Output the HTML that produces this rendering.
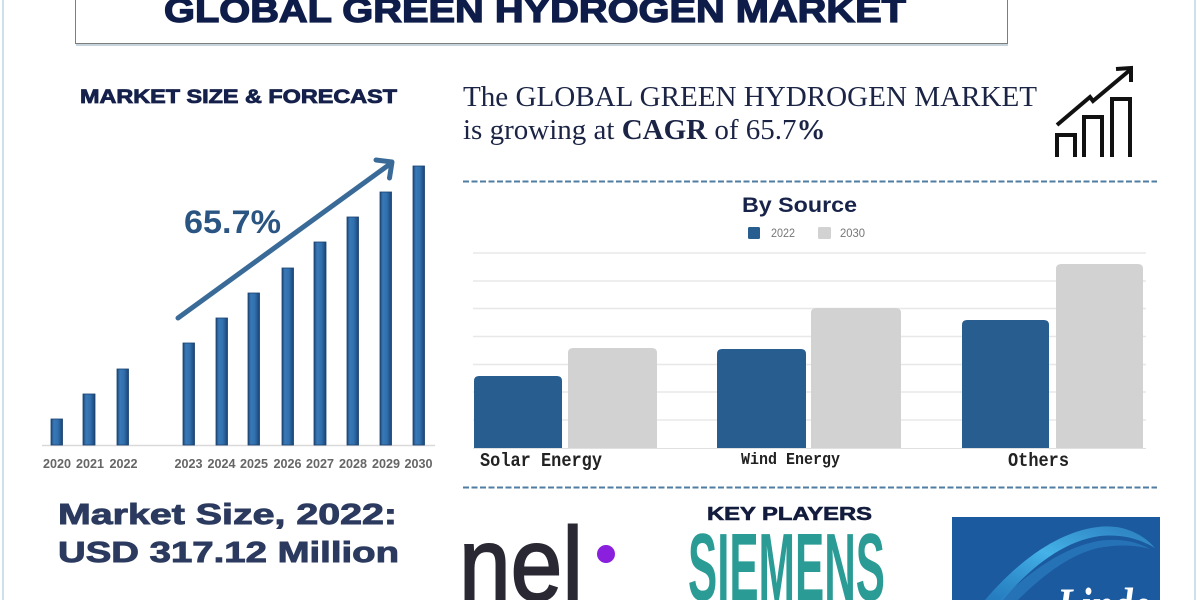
<!DOCTYPE html>
<html>
<head>
<meta charset="utf-8">
<style>
  html,body{margin:0;padding:0;background:#fff;width:1200px;height:600px;overflow:hidden;}
  svg{display:block;overflow:hidden;}
</style>
</head>
<body>
<svg width="1200" height="600" viewBox="0 0 1200 600" xmlns="http://www.w3.org/2000/svg">
  <defs>
    <linearGradient id="lb" x1="0" y1="0" x2="1" y2="0">
      <stop offset="0" stop-color="#1b4677"/>
      <stop offset="0.25" stop-color="#3a78b6"/>
      <stop offset="0.6" stop-color="#3170ae"/>
      <stop offset="1" stop-color="#1a4475"/>
    </linearGradient>
    <linearGradient id="sw" x1="0" y1="1" x2="1" y2="0">
      <stop offset="0" stop-color="#2a8fd0" stop-opacity="0.6"/>
      <stop offset="0.5" stop-color="#45b2e8"/>
      <stop offset="1" stop-color="#3a9fd8" stop-opacity="0.5"/>
    </linearGradient>
    <clipPath id="pg"><rect x="0" y="0" width="1200" height="600"/></clipPath>
  </defs>

  <g clip-path="url(#pg)">
  <rect width="1200" height="600" fill="#ffffff"/>
  <!-- page side borders -->
  <rect x="2" y="0" width="2" height="600" fill="#cfe0ea"/>
  <rect x="1194" y="0" width="2" height="600" fill="#cfe0ea"/>

  <!-- header box -->
  <rect x="75.5" y="-5" width="932" height="48.5" fill="#fff" stroke="#7d7d7d" stroke-width="1"/>
  <line x1="76" y1="45" x2="1008" y2="45" stroke="#c6d4de" stroke-width="2"/>
  <text x="164" y="22" font-family="Liberation Sans, sans-serif" font-weight="bold" font-size="34" fill="#0e1c4a" stroke="#0e1c4a" stroke-width="1.3" textLength="742" lengthAdjust="spacingAndGlyphs">GLOBAL GREEN HYDROGEN MARKET</text>

  <!-- left section title -->
  <text x="80" y="103" font-family="Liberation Sans, sans-serif" font-weight="bold" font-size="19" fill="#15214b" stroke="#15214b" stroke-width="0.8" textLength="317" lengthAdjust="spacingAndGlyphs">MARKET SIZE &amp; FORECAST</text>

  <!-- left bar chart -->
  <line x1="42" y1="445.5" x2="435" y2="445.5" stroke="#d9d9d9" stroke-width="1.5"/>
  <g fill="url(#lb)" stroke="#1a426f" stroke-width="0.8">
    <rect x="51" y="419" width="11.5" height="26"/>
    <rect x="83" y="394" width="12" height="51"/>
    <rect x="117" y="369" width="11.5" height="76"/>
    <rect x="183" y="343" width="11.5" height="102"/>
    <rect x="216" y="318" width="11.5" height="127"/>
    <rect x="248" y="293" width="11.5" height="152"/>
    <rect x="282" y="268" width="11.5" height="177"/>
    <rect x="314" y="242" width="12" height="203"/>
    <rect x="347" y="217" width="11.5" height="228"/>
    <rect x="380" y="192" width="11.5" height="253"/>
    <rect x="413" y="166" width="11.5" height="279"/>
  </g>
  <g font-family="Liberation Sans, sans-serif" font-weight="bold" font-size="13" fill="#666" text-anchor="middle">
    <text x="57" y="468" textLength="28" lengthAdjust="spacingAndGlyphs">2020</text>
    <text x="90" y="468" textLength="28" lengthAdjust="spacingAndGlyphs">2021</text>
    <text x="123.5" y="468" textLength="28" lengthAdjust="spacingAndGlyphs">2022</text>
    <text x="188.5" y="468" textLength="28" lengthAdjust="spacingAndGlyphs">2023</text>
    <text x="221.5" y="468" textLength="28" lengthAdjust="spacingAndGlyphs">2024</text>
    <text x="254" y="468" textLength="28" lengthAdjust="spacingAndGlyphs">2025</text>
    <text x="287.5" y="468" textLength="28" lengthAdjust="spacingAndGlyphs">2026</text>
    <text x="320" y="468" textLength="28" lengthAdjust="spacingAndGlyphs">2027</text>
    <text x="353" y="468" textLength="28" lengthAdjust="spacingAndGlyphs">2028</text>
    <text x="386" y="468" textLength="28" lengthAdjust="spacingAndGlyphs">2029</text>
    <text x="418.5" y="468" textLength="28" lengthAdjust="spacingAndGlyphs">2030</text>
  </g>
  <!-- growth arrow -->
  <line x1="178" y1="318" x2="390" y2="164" stroke="#3a6b98" stroke-width="5" stroke-linecap="round"/>
  <polyline points="376,160 392,162 389.5,178" fill="none" stroke="#3a6b98" stroke-width="5" stroke-linecap="round" stroke-linejoin="round"/>
  <text x="184" y="233" font-family="Liberation Sans, sans-serif" font-weight="bold" font-size="32" fill="#2a5482" textLength="97" lengthAdjust="spacingAndGlyphs">65.7%</text>

  <!-- CAGR text -->
  <text x="463" y="106" font-family="Liberation Serif, serif" font-size="29" fill="#1b2445" textLength="574" lengthAdjust="spacingAndGlyphs">The GLOBAL GREEN HYDROGEN MARKET</text>
  <text x="463" y="139" font-family="Liberation Serif, serif" font-size="29" fill="#1b2445">is growing at <tspan font-weight="bold">CAGR</tspan> of 65.7<tspan font-weight="bold">%</tspan></text>

  <!-- growth icon -->
  <g fill="none" stroke="#111" stroke-width="4" stroke-linejoin="miter">
    <polyline points="1057,157 1057,135 1075,135 1075,157"/>
    <polyline points="1084,157 1084,117 1102,117 1102,157"/>
    <polyline points="1112,157 1112,99 1130,99 1130,157"/>
    <polyline points="1057,125 1090,97 1093,101 1130,70"/>
    <polyline points="1116,69 1131,68 1131,82"/>
  </g>

  <!-- dashed separators -->
  <line x1="463" y1="181.5" x2="1157" y2="181.5" stroke="#4f7da3" stroke-width="2" stroke-dasharray="6,2.5"/>
  <line x1="463" y1="487.5" x2="1157" y2="487.5" stroke="#4f7da3" stroke-width="2" stroke-dasharray="6,2.5"/>

  <!-- By Source chart -->
  <text x="742" y="212" font-family="Liberation Sans, sans-serif" font-weight="bold" font-size="21" fill="#18234a" textLength="115" lengthAdjust="spacingAndGlyphs">By Source</text>
  <rect x="748" y="227" width="12" height="12" rx="1.5" fill="#275d8f"/>
  <text x="771" y="237" font-family="Liberation Sans, sans-serif" font-size="12" fill="#777" textLength="24" lengthAdjust="spacingAndGlyphs">2022</text>
  <rect x="818" y="227" width="13" height="12" rx="1.5" fill="#d2d2d2"/>
  <text x="840" y="237" font-family="Liberation Sans, sans-serif" font-size="12" fill="#777" textLength="25" lengthAdjust="spacingAndGlyphs">2030</text>

  <g stroke="#e8e8e8" stroke-width="1.5">
    <line x1="473" y1="253" x2="1146" y2="253"/>
    <line x1="473" y1="281" x2="1146" y2="281"/>
    <line x1="473" y1="308.5" x2="1146" y2="308.5"/>
    <line x1="473" y1="336.5" x2="1146" y2="336.5"/>
    <line x1="473" y1="364.5" x2="1146" y2="364.5"/>
    <line x1="473" y1="392" x2="1146" y2="392"/>
    <line x1="473" y1="420" x2="1146" y2="420"/>
  </g>
  <g fill="#275d8f">
    <path d="M474,448 V381 Q474,376 479,376 H557 Q562,376 562,381 V448 Z"/>
    <path d="M717,448 V354 Q717,349 722,349 H801 Q806,349 806,354 V448 Z"/>
    <path d="M962,448 V325 Q962,320 967,320 H1044 Q1049,320 1049,325 V448 Z"/>
  </g>
  <g fill="#d2d2d2">
    <path d="M568,448 V353 Q568,348 573,348 H652 Q657,348 657,353 V448 Z"/>
    <path d="M811,448 V313 Q811,308 816,308 H896 Q901,308 901,313 V448 Z"/>
    <path d="M1056,448 V269 Q1056,264 1061,264 H1138 Q1143,264 1143,269 V448 Z"/>
  </g>
  <line x1="473" y1="448.5" x2="1146" y2="448.5" stroke="#e0e0e0" stroke-width="1"/>
  <g font-family="Liberation Mono, monospace" font-weight="bold" font-size="19" fill="#222">
    <text x="480" y="466" textLength="122" lengthAdjust="spacingAndGlyphs">Solar Energy</text>
    <text x="741" y="464" font-size="17" textLength="99" lengthAdjust="spacingAndGlyphs">Wind Energy</text>
    <text x="1008" y="466" textLength="61" lengthAdjust="spacingAndGlyphs">Others</text>
  </g>

  <!-- Market size -->
  <text x="58" y="524" font-family="Liberation Sans, sans-serif" font-weight="bold" font-size="29" fill="#2b3a5e" stroke="#2b3a5e" stroke-width="0.9" textLength="339" lengthAdjust="spacingAndGlyphs">Market Size, 2022:</text>
  <text x="58" y="562" font-family="Liberation Sans, sans-serif" font-weight="bold" font-size="29" fill="#2b3a5e" stroke="#2b3a5e" stroke-width="0.9" textLength="341" lengthAdjust="spacingAndGlyphs">USD 317.12 Million</text>

  <!-- nel logo -->
  <text x="459" y="600" font-family="Liberation Sans, sans-serif" font-size="104" fill="#2a2833" stroke="#2a2833" stroke-width="2" textLength="124" lengthAdjust="spacingAndGlyphs">nel</text>
  <circle cx="606" cy="554" r="9" fill="#8a1fdd"/>

  <!-- key players -->
  <text x="707" y="520" font-family="Liberation Sans, sans-serif" font-weight="bold" font-size="18" fill="#131c3d" stroke="#131c3d" stroke-width="0.6" textLength="165" lengthAdjust="spacingAndGlyphs">KEY PLAYERS</text>
  <text x="688" y="600" font-family="Liberation Sans, sans-serif" font-weight="bold" font-size="96" fill="#2b9b95" textLength="197" lengthAdjust="spacingAndGlyphs">SIEMENS</text>

  <!-- Linde logo -->
  <rect x="952" y="517" width="208" height="83" fill="#1b5a9f"/>
  <path d="M985,600 C1015,565 1055,532 1098,527 C1122,524 1142,533 1155,548 C1140,539 1122,534 1100,536 C1062,541 1028,570 1003,600 Z" fill="url(#sw)"/>
  <path d="M1000,600 C1030,572 1062,548 1098,541 C1118,538 1136,541 1150,549 C1132,544 1114,545 1098,548 C1068,555 1040,578 1018,600 Z" fill="#2f86c8" opacity="0.55"/>
  <text x="1057" y="622" font-family="Liberation Serif, serif" font-style="italic" font-weight="bold" font-size="50" fill="#ffffff" textLength="93" lengthAdjust="spacingAndGlyphs">Linde</text>
  </g>
</svg>
</body>
</html>
